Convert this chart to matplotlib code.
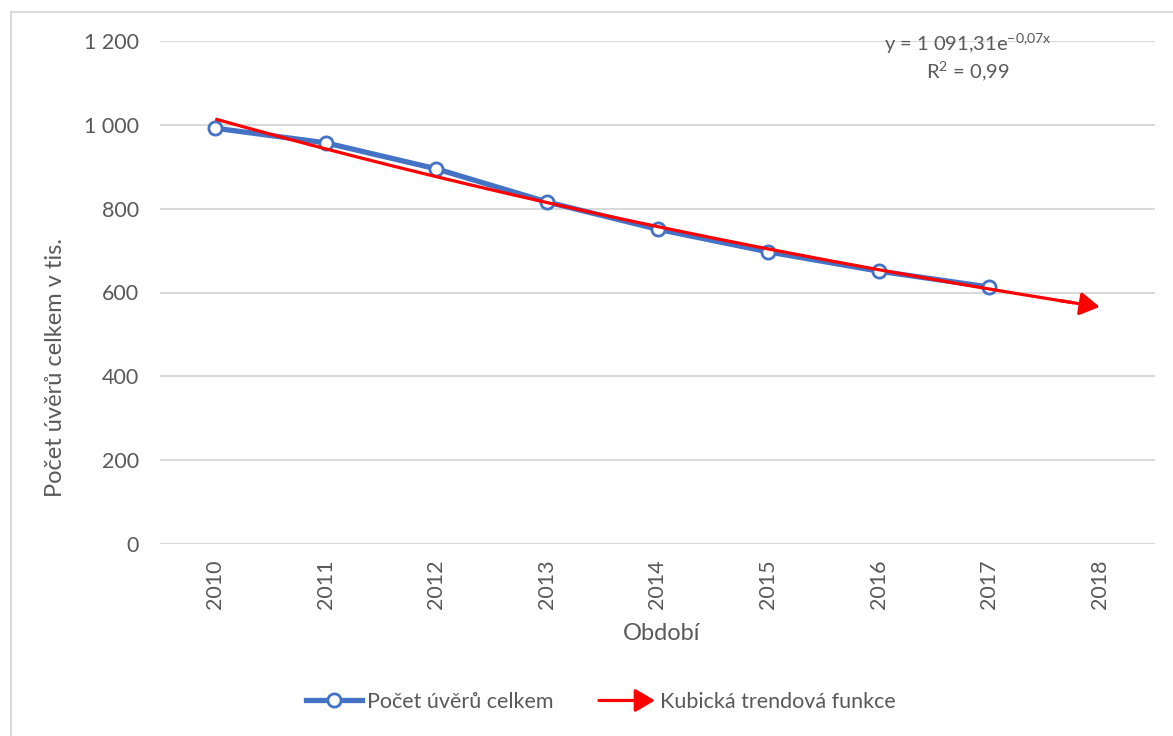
import numpy as np
import matplotlib
matplotlib.use("Agg")
import matplotlib.pyplot as plt
from matplotlib.lines import Line2D
from matplotlib.patches import FancyArrowPatch
from matplotlib.legend_handler import HandlerBase

plt.rcParams['font.family'] = ['Lato', 'DejaVu Sans']
plt.rcParams['mathtext.fontset'] = 'custom'
plt.rcParams['mathtext.rm'] = 'Lato'
plt.rcParams['mathtext.it'] = 'Lato'

# Data
years = ['2010', '2011', '2012', '2013', '2014', '2015', '2016', '2017', '2018']
loans = [992, 957, 895, 816, 751, 697, 651, 613]  # thousands
y_ticks = [0, 200, 400, 600, 800, 1000, 1200]
y_tick_labels = ['0', '200', '400', '600', '800', '1 000', '1 200']
equation_label = r'y = 1 091,31e$^{\mathrm{-0{,}07x}}$'
r2_label = r'R$^{\mathrm{2}}$ = 0,99'

TEXT = '#595959'
GRID = '#D9D9D9'
BLUE = '#4472C4'
RED = '#FF0000'
ARROW = '-|>,head_length=0.85,head_width=0.5'

W, H = 1173, 736
fig = plt.figure(figsize=(W / 100, H / 100), dpi=100)

# outer chart border
fig.add_artist(Line2D([11 / W, 1.0], [1 - 12 / H, 1 - 12 / H], color=GRID, lw=1.5))
fig.add_artist(Line2D([11 / W, 11 / W], [0.0, 1 - 12 / H], color=GRID, lw=1.5))

ax = fig.add_axes([160 / W, (H - 544) / H, (1155 - 160) / W, (544 - 41) / H])
ax.set_xlim(-0.5, len(years) - 0.5)
ax.set_ylim(0, 1200)
for s in ax.spines.values():
    s.set_visible(False)
ax.set_yticks(y_ticks)
ax.set_yticklabels(y_tick_labels)
ax.set_xticks(range(len(years)))
ax.set_xticklabels(years, rotation=90)
ax.tick_params(axis='both', length=0, colors=TEXT, labelsize=15.5)
ax.tick_params(axis='y', pad=15)
ax.tick_params(axis='x', pad=11)
ax.yaxis.grid(True, color=GRID, lw=1.5)
ax.set_axisbelow(True)

# exponential trend y = a*exp(b*x), x = 1..n, least squares on log values
xi = np.arange(len(years))
b, ln_a = np.polyfit(np.arange(1, len(loans) + 1), np.log(loans), 1)
xt = np.linspace(0, len(years) - 1, 200)
yt = np.exp(ln_a) * np.exp(b * (xt + 1))
ax.plot(xt[:-6], yt[:-6], color=RED, lw=2.3, zorder=4, solid_capstyle='butt')
ax.annotate('', xy=(xt[-1], yt[-1]), xytext=(xt[-10], yt[-10]),
            arrowprops=dict(arrowstyle=ARROW, color=RED, lw=2.3, mutation_scale=14,
                            shrinkA=0, shrinkB=0),
            zorder=4)

# data series
ax.plot(xi[:len(loans)], loans, color=BLUE, lw=3.8, marker='o', markersize=9.5,
        markerfacecolor='white', markeredgecolor=BLUE, markeredgewidth=2, zorder=3)

fig.text(968 / W, 1 - 44 / H, equation_label, ha='center',
         va='center', color=TEXT, fontsize=14.5)
fig.text(968 / W, 1 - 71 / H, r2_label, ha='center', va='center', color=TEXT, fontsize=14.5)

fig.text(662 / W, 1 - 633 / H, 'Období', ha='center', va='center', color=TEXT, fontsize=17)
fig.text(56 / W, 1 - 367 / H, 'Počet úvěrů celkem v tis.', ha='center', va='center',
         rotation=90, color=TEXT, fontsize=17)


class ArrowHandler(HandlerBase):
    def create_artists(self, legend, orig_handle, xdescent, ydescent, width, height,
                       fontsize, trans):
        y = height / 2 - ydescent
        p = FancyArrowPatch((-xdescent, y), (width - xdescent, y),
                            arrowstyle=ARROW, mutation_scale=14, color=RED, lw=2.3,
                            transform=trans, shrinkA=0, shrinkB=0)
        return [p]


h_blue = Line2D([], [], color=BLUE, lw=3.8, marker='o', markersize=9.5,
                markerfacecolor='white', markeredgecolor=BLUE, markeredgewidth=2)
h_red = Line2D([], [], color=RED)
fig.legend([h_blue, h_red], ['Počet úvěrů celkem', 'Kubická trendová funkce'],
           handler_map={h_red: ArrowHandler()}, loc='center',
           bbox_to_anchor=(601 / W, 1 - 702 / H), ncol=2, frameon=False,
           fontsize=15.5, labelcolor=TEXT, handlelength=2.6, handletextpad=0.25,
           columnspacing=2.1)

fig.savefig('out.png', dpi=100)
